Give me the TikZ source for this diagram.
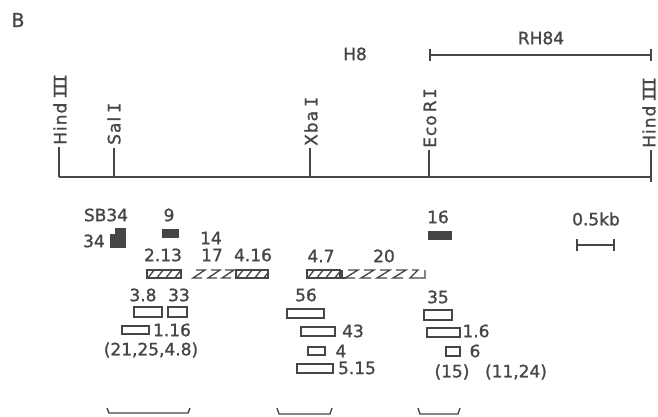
\documentclass[tikz,border=0pt]{standalone}
\usepackage{fontspec}
\usepackage{graphicx}
\setmainfont[FakeBold=1.2]{DejaVu Sans}
\newfontfamily\lblf[FakeBold=1.2]{DejaVu Sans}
\newfontfamily\monof[FakeBold=1.2]{DejaVu Sans Mono}
\newfontfamily\rotf[LetterSpace=6,FakeBold=1.2]{DejaVu Sans}
\definecolor{ink}{RGB}{70,70,70}
\newcommand{\rnumi}{{\monof I}}
\newcommand{\rnumiii}{{\monof I\kern-3pt I\kern-3pt I}}
\newcommand{\hatchbox}[2]{%
  \draw[hb] (#1,270) rectangle (#2,278);
  \begin{scope}
    \clip (#1,270) rectangle (#2,278);
    \foreach \k in {0,9,...,45} \draw[hb] ({#1+\k},279) -- ({#1+\k+8},269);
  \end{scope}}
\newcommand{\zpiece}[2]{%
  \draw[hb] ({#1+3},270) -- ({#1+#2},270) -- (#1,278) -- ({#1+#2-3},278);}
\begin{document}
\begin{tikzpicture}[x=1pt,y=-1pt,
  every node/.style={text=ink},
  lbl/.style={inner sep=0pt, font=\fontsize{17}{19}\lblf},
  rlbl/.style={inner sep=0pt, rotate=90, anchor=west, font=\fontsize{17}{19}\rotf},
  mapline/.style={draw=ink, line width=1.8pt},
  ob/.style={draw=ink, line width=1.3pt},
  hb/.style={draw=ink, line width=1.35pt},
  fb/.style={fill=ink, draw=ink, line width=0.5pt},
  thin/.style={draw=ink, line width=1.4pt}]
\useasboundingbox (0,0) rectangle (658,416);
\fill[white] (0,0) rectangle (658,416);

\node[lbl, font=\fontsize{19}{21}\lblf] (B) at (18,20) {B};
\node[lbl] (H8) at (355,54) {H8};
\node[lbl] (RH84) at (541,38) {RH84};

% restriction map
\coordinate (L) at (59,177);
\coordinate (R) at (651,177);
\draw[mapline] (L) -- (R);
\coordinate (tHa) at (59,147);
\coordinate (tSa) at (114,148);
\coordinate (tXb) at (310,148);
\coordinate (tEc) at (429,150);
\coordinate (tHb) at (651,150);
\draw[mapline] (tHa) -- (L);
\draw[mapline] (tSa) -- (114,177);
\draw[mapline] (tXb) -- (310,177);
\draw[mapline] (tEc) -- (429,177);
\draw[mapline] (tHb) -- (651,182);

\node[rlbl] (HindA) at (60,145) {Hind\hspace{4pt}\rnumiii};
\node[rlbl] (Sal) at (114,145) {Sal\hspace{4pt}\rnumi};
\node[rlbl] (Xba) at (311,146) {Xba\hspace{4pt}\rnumi};
\node[rlbl] (Eco) at (430,148) {Eco\hspace{3pt}R\hspace{2pt}\rnumi};
\node[rlbl] (HindB) at (649,148) {Hind\hspace{4pt}\rnumiii};

% RH84 span
\coordinate (r1) at (430,55);
\coordinate (r2) at (651,55);
\draw[thin] (r1) -- (r2);
\draw[thin] (430,49) -- (430,61);
\draw[thin] (651,49) -- (651,61);

% labels
\node[lbl] (SB34) at (106,215) {SB34};
\node[lbl] (n9) at (169,215) {9};
\node[lbl] (n16) at (438,217) {16};
\node[lbl] (kb) at (596,219) {0.5kb};
\node[lbl] (n34) at (94,241) {34};
\node[lbl] (n14) at (211,238) {14};
\node[lbl] (n213) at (163,255) {2.13};
\node[lbl] (n17) at (212,255) {17};
\node[lbl] (n416) at (253,255) {4.16};
\node[lbl] (n47) at (321,256) {4.7};
\node[lbl] (n20) at (384,256) {20};
\node[lbl] (n38) at (143,295) {3.8};
\node[lbl] (n33) at (179,295) {33};
\node[lbl] (n56) at (306,295) {56};
\node[lbl] (n35) at (438,297) {35};
\node[lbl] (n116) at (172,330) {1.16};
\node[lbl] (n43) at (353,331) {43};
\node[lbl] (n16b) at (476,331) {1.6};
\node[lbl] (n4) at (341,351) {4};
\node[lbl] (n6) at (475,351) {6};
\node[lbl] (grpA) at (151,350) {(21,25,4.8)};
\node[lbl] (n515) at (357,368) {5.15};
\node[lbl] (n15) at (452,372) {(15)};
\node[lbl] (grpB) at (516,372) {(11,24)};

% filled boxes
\fill[fb] (110,247) -- (110,234) -- (115,234) -- (115,228) -- (125,228) -- (125,247) -- cycle;
\fill[fb] (162,229) rectangle (178,237);
\fill[fb] (428,231) rectangle (451,239);

% scale bar
\draw[thin] (577,245) -- (614,245);
\draw[thin] (577,239) -- (577,251);
\draw[thin] (614,239) -- (614,251);

% hatched boxes
\hatchbox{147}{181}
\hatchbox{236}{268}
\hatchbox{307}{340}
% broken hatched boxes
\zpiece{193}{12}
\zpiece{208}{12}
\zpiece{222}{12}
\draw[hb] (342,270) -- (342,278) -- (346,278);
\zpiece{345}{13}
\zpiece{361}{13}
\zpiece{377}{13}
\zpiece{393}{13}
\draw[hb] (412,270) -- (418,270) -- (410,278) -- (425,278) -- (425,270);

% open boxes
\draw[ob] (134,307) rectangle (162,317);
\draw[ob] (168,307) rectangle (187,317);
\draw[ob] (122,326) rectangle (149,334);
\draw[ob] (287,309) rectangle (324,318);
\draw[ob] (301,327) rectangle (335,336);
\draw[ob] (308,347) rectangle (325,355);
\draw[ob] (297,364) rectangle (333,373);
\draw[ob] (424,310) rectangle (452,320);
\draw[ob] (427,328) rectangle (460,337);
\draw[ob] (446,347) rectangle (460,356);

% bottom brackets
\draw[thin] (107,408) -- (109,413) -- (188,413) -- (190,408);
\draw[thin] (277,408) -- (279,414) -- (330,414) -- (332,408);
\draw[thin] (418,408) -- (420,414) -- (458,414) -- (460,408);
\end{tikzpicture}
\end{document}
